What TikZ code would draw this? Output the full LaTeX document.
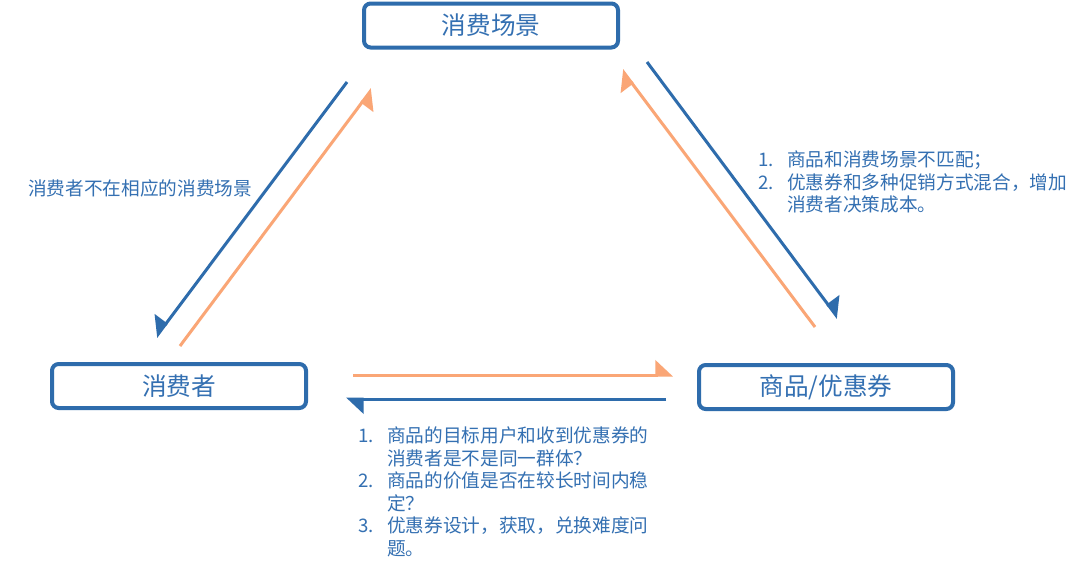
\documentclass[tikz,border=0pt]{standalone}
\usepackage{fontspec}
\setmainfont{Noto Sans CJK SC}
\usetikzlibrary{arrows.meta}
\definecolor{mblue}{RGB}{46,108,172}
\definecolor{morange}{RGB}{250,166,118}
\definecolor{tblue}{RGB}{52,112,178}
\newcommand\numitem[1]{\makebox[21.75pt][l]{#1}}
\newcommand\indentitem{\hspace*{21.75pt}}
\tikzset{
  box/.style={draw=mblue, line width=3pt, rounded corners=5pt, fill=white,
    text=tblue, font=\fontsize{18.5}{22}\selectfont,
    minimum width=190.5pt, minimum height=33pt, inner sep=0pt},
  lbl/.style={text=tblue, font=\fontsize{14}{16.9}\selectfont, inner sep=0pt, align=left},
  tipL/.style={-{Triangle[harpoon, length=12pt, width=22pt]}},
  tipR/.style={-{Triangle[harpoon, swap, length=12pt, width=22pt]}},
  barrow/.style={draw=mblue, line width=2.25pt},
  oarrow/.style={draw=morange, line width=2.25pt},
}
\begin{document}
\begin{tikzpicture}[x=0.75pt, y=-0.75pt]
\path[use as bounding box, fill=white] (0,0) rectangle (1080,571);

\node[box] (scene) at (491,25.5) {消费场景};
\node[box] (consumer) at (179,386) {消费者};
\node[box] (goods) at (826,387) {商品/优惠券};

% free ends of the connectors
\coordinate (b1s) at (347,82);  \coordinate (b1e) at (156,337);
\coordinate (o1s) at (180,346); \coordinate (o1e) at (372,89);
\coordinate (b2s) at (647,62);  \coordinate (b2e) at (838,318);
\coordinate (o2s) at (815,327); \coordinate (o2e) at (622,70);
\coordinate (o3s) at (353,375); \coordinate (o3e) at (673,375);
\coordinate (b3s) at (666,399); \coordinate (b3e) at (346,399);

\draw[barrow, tipR] (b1s) -- (b1e);
\draw[oarrow, tipR] (o1s) -- (o1e);
\draw[barrow, tipL] (b2s) -- (b2e);
\draw[oarrow, tipL] (o2s) -- (o2e);
\draw[oarrow, tipL] (o3s) -- (o3e);
\draw[barrow, tipL] (b3s) -- (b3e);

\node[lbl, anchor=west] (leftlbl) at (28,188) {消费者不在相应的消费场景};

\node[lbl, anchor=north west] (rightlbl) at (758,150.5) {%
\numitem{1.}商品和消费场景不匹配；\\
\numitem{2.}优惠券和多种促销方式混合，增加\\
\indentitem 消费者决策成本。};

\node[lbl, anchor=north west] (bottomlbl) at (358,426.5) {%
\numitem{1.}商品的目标用户和收到优惠券的\\
\indentitem 消费者是不是同一群体？\\
\numitem{2.}商品的价值是否在较长时间内稳\\
\indentitem 定？\\
\numitem{3.}优惠券设计，获取，兑换难度问\\
\indentitem 题。};
\end{tikzpicture}
\end{document}
